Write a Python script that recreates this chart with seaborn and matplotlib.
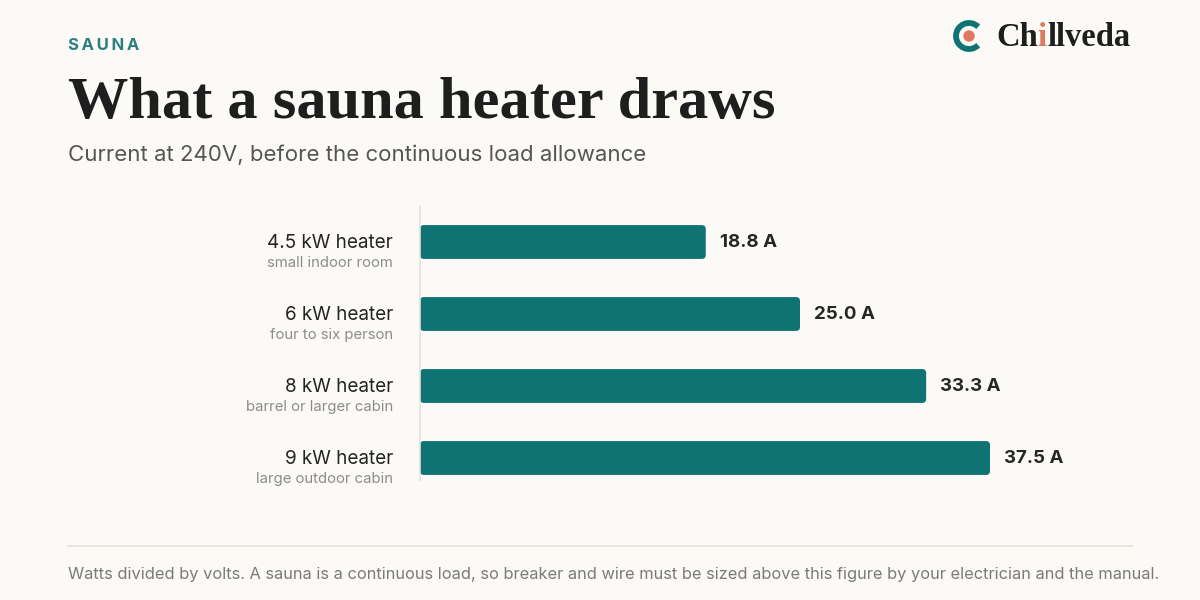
import matplotlib
matplotlib.use("Agg")
import matplotlib.pyplot as plt
from matplotlib.patches import FancyBboxPatch, Arc, Circle
import pandas as pd
import seaborn as sns

# chart data
heaters = ["4.5 kW heater", "6 kW heater", "8 kW heater", "9 kW heater"]
uses = ["small indoor room", "four to six person", "barrel or larger cabin", "large outdoor cabin"]
amps = [18.8, 25.0, 33.3, 37.5]

BG = "#FBFAF6"
TEAL = "#0F7373"
CORAL = "#E0795F"
INK = "#1E1E1E"

sns.set_theme(style="white")
plt.rcParams["font.family"] = ["Inter", "DejaVu Sans"]

df = pd.DataFrame({"heater": heaters, "use": uses, "amps": amps})

fig = plt.figure(figsize=(12, 6), dpi=100, facecolor=BG)

# overlay in pixel coords for header / footer
over = fig.add_axes([0, 0, 1, 1], zorder=0)
over.set_xlim(0, 1200)
over.set_ylim(600, 0)
over.axis("off")
over.patch.set_alpha(0)

# main bar axes: x 420..1130 px, y 206..494 px
ax = fig.add_axes([420 / 1200, 1 - 494 / 600, 710 / 1200, 288 / 600], zorder=1)
ax.patch.set_alpha(0)

sns.barplot(data=df, x="amps", y="heater", orient="h", color=TEAL,
            width=0.47, saturation=1, ax=ax)

ax.set_xlim(0, 710 / 15.2)
ax.set_ylim(3.5, -0.5)

# rounded bars
px_per_x = 15.2
px_per_y = 72
for p in list(ax.patches):
    x, y, w, h = p.get_x(), p.get_y(), p.get_width(), p.get_height()
    p.remove()
    rb = FancyBboxPatch((x, y), w, h,
                        boxstyle=f"round,pad=0,rounding_size={4 / px_per_x}",
                        mutation_aspect=px_per_x / px_per_y,
                        fc=TEAL, ec="none")
    ax.add_patch(rb)

for i, (h, u, a) in enumerate(zip(heaters, uses, amps)):
    ax.text(-27 / 710, i + 0.01, h, transform=ax.get_yaxis_transform(),
            ha="right", va="center", fontsize=13.6, color="#242424")
    ax.text(-27 / 710, i + 0.29, u, transform=ax.get_yaxis_transform(),
            ha="right", va="center", fontsize=10.7, color="#8c8c8c")
    ax.text(a + 14 / px_per_x, i + 0.01, f"{a:.1f} A", ha="left", va="center",
            fontsize=13.5, fontweight="bold", color="#262626")

ax.set_xticks([])
ax.set_yticks([])
ax.set_xlabel("")
ax.set_ylabel("")
for s in ["top", "right", "bottom"]:
    ax.spines[s].set_visible(False)
ax.spines["left"].set_color("#E2E0DA")
ax.spines["left"].set_linewidth(1.2)
ax.spines["left"].set_bounds(-0.48, 3.3)

# header
over.text(68, 45, "S\u2009A\u2009U\u2009N\u2009A", ha="left", va="center",
          fontsize=12, fontweight="bold", color="#2B7F7F")
over.text(68, 118, "What a sauna heater draws", ha="left", va="baseline",
          fontsize=43.5, fontweight="bold", color=INK,
          family=["Liberation Serif", "DejaVu Serif"])
over.text(68, 155, "Current at 240V, before the continuous load allowance",
          ha="left", va="center", fontsize=16, color="#555555")

# logo
over.add_patch(Arc((969, 36), 26, 26, theta1=45, theta2=315,
                   lw=4.2, color=TEAL))
over.add_patch(Circle((969, 36), 5, color=CORAL))
fig.canvas.draw()
r = fig.canvas.get_renderer()
xpos = 996
for part, col in [("Ch", INK), ("i", CORAL), ("llveda", INK)]:
    t = over.text(xpos, 37, part, ha="left", va="center", fontsize=23.5,
                  fontweight="bold", color=col,
                  family=["Liberation Serif", "DejaVu Serif"])
    bb = t.get_window_extent(renderer=r)
    xpos += bb.width

# footer
over.plot([68, 1133], [546, 546], color="#E6E3DC", lw=1.2)
over.text(68, 575, "Watts divided by volts. A sauna is a continuous load, so breaker and wire "
          "must be sized above this figure by your electrician and the manual.",
          ha="left", va="center", fontsize=11.8, color="#7a7a7a")

fig.savefig("out.png", dpi=100, facecolor=BG)
